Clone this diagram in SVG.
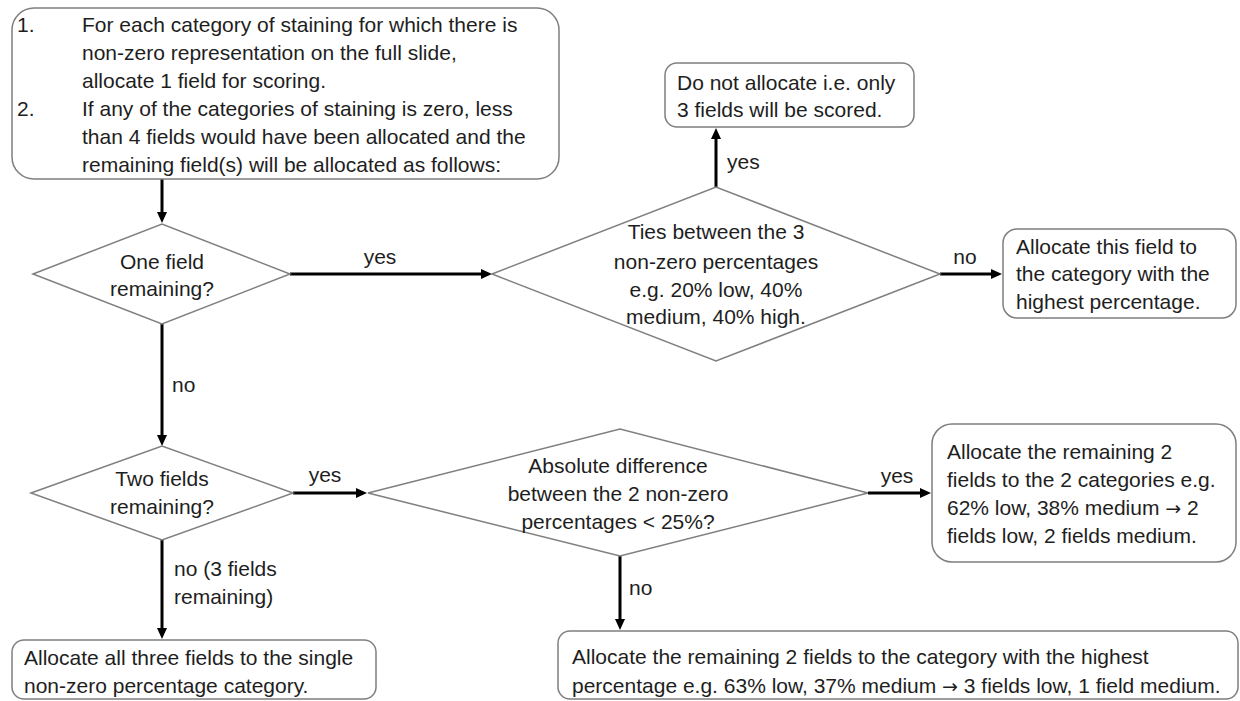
<svg xmlns="http://www.w3.org/2000/svg" width="1240" height="701" viewBox="0 0 1240 701">
<style>
.box{fill:#fff;stroke:#7f7f7f;stroke-width:1.5}
.dia{fill:#fff;stroke:#7f7f7f;stroke-width:1.5}
.t{font-family:"Liberation Sans",Arial,sans-serif;font-size:21px;fill:#1e1e1e}
.c{text-anchor:middle}
.ar{font-family:"DejaVu Sans",sans-serif;font-size:19px}
.con{stroke:#000;stroke-width:3;fill:none}
</style>
<defs>
<marker id="ah" markerUnits="userSpaceOnUse" markerWidth="12" markerHeight="10" refX="0" refY="5" orient="auto">
<path d="M0,0 L11,5 L0,10 z" fill="#000"/>
</marker>
</defs>
<rect width="1240" height="701" fill="#fff"/>
<g id="connectors">
<line class="con" x1="162" y1="179" x2="162" y2="212" marker-end="url(#ah)"/>
<line class="con" x1="290" y1="274" x2="481" y2="274" marker-end="url(#ah)"/>
<line class="con" x1="716" y1="187" x2="716" y2="139" marker-end="url(#ah)"/>
<line class="con" x1="940" y1="274" x2="991" y2="274" marker-end="url(#ah)"/>
<line class="con" x1="162" y1="324" x2="162" y2="435" marker-end="url(#ah)"/>
<line class="con" x1="293" y1="493" x2="356" y2="493" marker-end="url(#ah)"/>
<line class="con" x1="868" y1="493" x2="920" y2="493" marker-end="url(#ah)"/>
<line class="con" x1="620" y1="556" x2="620" y2="619" marker-end="url(#ah)"/>
<line class="con" x1="162" y1="540" x2="162" y2="628" marker-end="url(#ah)"/>
<text class="t c" x="380" y="264">yes</text>
<text class="t" x="727" y="169">yes</text>
<text class="t c" x="965" y="264">no</text>
<text class="t" x="172" y="392">no</text>
<text class="t c" x="325" y="482">yes</text>
<text class="t c" x="897" y="483">yes</text>
<text class="t" x="629" y="595">no</text>
<text class="t" x="174" y="576">no (3 fields</text>
<text class="t" x="174" y="604">remaining)</text>
</g>
<g id="start">
<rect class="box" x="12" y="8" width="547" height="171" rx="22"/>
<text class="t" x="17" y="32">1.</text>
<text class="t" x="82" y="32">For each category of staining for which there is</text>
<text class="t" x="82" y="60">non-zero representation on the full slide,</text>
<text class="t" x="82" y="88">allocate 1 field for scoring.</text>
<text class="t" x="17" y="116">2.</text>
<text class="t" x="82" y="116">If any of the categories of staining is zero, less</text>
<text class="t" x="82" y="144">than 4 fields would have been allocated and the</text>
<text class="t" x="82" y="172">remaining field(s) will be allocated as follows:</text>
</g>
<g id="one-field">
<polygon class="dia" points="33,274 162,224 290,274 162,324"/>
<text class="t c" x="162" y="269">One field</text>
<text class="t c" x="162" y="296">remaining?</text>
</g>
<g id="ties">
<polygon class="dia" points="492,274 716,187 940,274 716,361"/>
<text class="t c" x="716" y="239">Ties between the 3</text>
<text class="t c" x="716" y="269">non-zero percentages</text>
<text class="t c" x="716" y="297">e.g. 20% low, 40%</text>
<text class="t c" x="716" y="324">medium, 40% high.</text>
</g>
<g id="do-not-allocate">
<rect class="box" x="665" y="63" width="249" height="64" rx="12"/>
<text class="t" x="677" y="90">Do not allocate i.e. only</text>
<text class="t" x="677" y="117">3 fields will be scored.</text>
</g>
<g id="allocate-highest">
<rect class="box" x="1003" y="229" width="233" height="89" rx="14"/>
<text class="t" x="1016" y="254">Allocate this field to</text>
<text class="t" x="1016" y="281">the category with the</text>
<text class="t" x="1016" y="309">highest percentage.</text>
</g>
<g id="two-fields">
<polygon class="dia" points="31,493 162,446 293,493 162,540"/>
<text class="t c" x="162" y="486">Two fields</text>
<text class="t c" x="162" y="514">remaining?</text>
</g>
<g id="abs-diff">
<polygon class="dia" points="368,493 620,429 868,493 620,556"/>
<text class="t c" x="618" y="473">Absolute difference</text>
<text class="t c" x="618" y="501">between the 2 non-zero</text>
<text class="t c" x="618" y="529">percentages &lt; 25%?</text>
</g>
<g id="allocate-two-categories">
<rect class="box" x="932" y="424" width="304" height="138" rx="20"/>
<text class="t" x="947" y="459">Allocate the remaining 2</text>
<text class="t" x="947" y="487">fields to the 2 categories e.g.</text>
<text class="t" x="947" y="515">62% low, 38% medium <tspan class="ar">→</tspan> 2</text>
<text class="t" x="947" y="543">fields low, 2 fields medium.</text>
</g>
<g id="allocate-highest-two">
<rect class="box" x="558" y="631" width="680" height="68" rx="12"/>
<text class="t" x="572" y="664">Allocate the remaining 2 fields to the category with the highest</text>
<text class="t" x="572" y="693">percentage e.g. 63% low, 37% medium <tspan class="ar">→</tspan> 3 fields low, 1 field medium.</text>
</g>
<g id="allocate-all-three">
<rect class="box" x="12" y="640" width="364" height="59" rx="12"/>
<text class="t" x="24" y="665">Allocate all three fields to the single</text>
<text class="t" x="24" y="693">non-zero percentage category.</text>
</g>
</svg>
